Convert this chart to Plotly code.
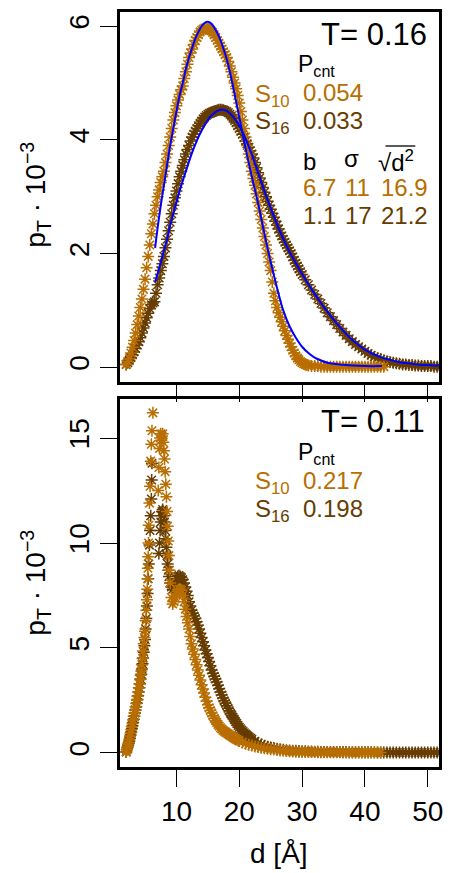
import plotly.graph_objects as go

W, H = 451, 873
ORANGE = "#B86E00"
DARK = "#663C00"
BLUE = "#0000FF"

# ---------------- top panel (T = 0.16) ----------------
top_s10_d = [2.0,2.25,2.5,2.75,3.0,3.25,3.5,3.75,4.0,4.25,4.5,4.75,5.0,5.25,5.5,5.75,6.0,6.25,6.5,6.75,
             7.0,7.25,7.5,7.75,8.0,8.25,8.5,8.75,9.0,9.25,9.5,9.75,10.0,10.25,10.5,10.75,11.0,11.25,11.5,11.75,
             12.0,12.25,12.5,12.75,13.0,13.25,13.5,13.75,14.0,14.25,14.5,14.75,15.0,15.25,15.5,15.75,16.0,16.25,16.5,16.75,
             17.0,17.25,17.5,17.75,18.0,18.25,18.5,18.75,19.0,19.25,19.5,19.75,20.0,20.25,20.5,20.75,21.0,21.25,21.5,21.75,
             22.0,22.25,22.5,22.75,23.0,23.25,23.5,23.75,24.0,24.25,24.5,24.75,25.0,25.25,25.5,25.75,26.0,26.25,26.5,26.75,
             27.0,27.25,27.5,27.75,28.0,28.25,28.5,28.75,29.0,29.25,29.5,29.75,30.0,30.25,30.5,30.75,31.0,
             31.5,32.0,32.5,33.0,33.5,34.0,34.5,35.0,35.5,36.0,36.5,37.0,37.5,38.0,38.5,39.0,39.5,40.0,40.5,41.0,41.5,42.0,42.5,43.0]
top_s10_p = [0.05,0.1,0.15,0.25,0.35,0.47,0.6,0.75,0.9,1.05,1.2,1.37,1.55,1.75,1.95,2.15,2.35,2.52,2.7,2.85,
             3.0,3.12,3.25,3.35,3.45,3.6,3.75,3.9,4.05,4.2,4.35,4.48,4.6,4.7,4.8,4.88,4.95,5.08,5.2,5.33,
             5.45,5.53,5.6,5.68,5.75,5.8,5.85,5.9,5.93,5.95,5.97,5.96,5.95,5.94,5.92,5.89,5.85,5.8,5.75,5.7,
             5.65,5.6,5.55,5.5,5.45,5.38,5.3,5.2,5.1,5.0,4.9,4.78,4.65,4.5,4.35,4.2,4.05,3.9,3.75,3.6,
             3.45,3.32,3.2,3.05,2.9,2.75,2.6,2.45,2.3,2.15,2.0,1.85,1.7,1.5,1.3,1.17,1.05,0.96,0.88,0.8,
             0.72,0.64,0.56,0.49,0.42,0.36,0.3,0.25,0.2,0.16,0.13,0.1,0.08,0.06,0.05,0.04,0.03,
             0.02,0.02,0.02,0.01,0.01,0.01,0.01,0.01,0.01,0.01,0.01,0.01,0.01,0.01,0.01,0.01,0.01,0.01,0.01,0.01,0.01,0.01,0.01,0.01]

top_s16_d = [2.0,2.25,2.5,2.75,3.0,3.25,3.5,3.75,4.0,4.25,4.5,4.75,5.0,5.25,5.5,5.75,6.0,6.25,6.5,6.75,
             7.0,7.25,7.5,7.75,8.0,8.25,8.5,8.75,9.0,9.25,9.5,9.75,10.0,10.25,10.5,10.75,11.0,11.25,11.5,11.75,
             12.0,12.25,12.5,12.75,13.0,13.25,13.5,13.75,14.0,14.25,14.5,14.75,15.0,15.25,15.5,15.75,16.0,16.25,16.5,16.75,
             17.0,17.25,17.5,17.75,18.0,18.25,18.5,18.75,19.0,19.25,19.5,19.75,20.0,20.25,20.5,20.75,21.0,21.25,21.5,21.75,
             22.0,22.25,22.5,22.75,23.0,23.25,23.5,23.75,24.0,24.25,24.5,24.75,25.0,25.25,25.5,25.75,26.0,26.25,26.5,26.75,
             27.0,27.25,27.5,27.75,28.0,28.25,28.5,28.75,29.0,29.25,29.5,29.75,30.0,
             30.5,31.0,31.5,32.0,32.5,33.0,33.5,34.0,34.5,35.0,35.5,36.0,36.5,37.0,37.5,38.0,38.5,39.0,39.5,40.0,
             40.5,41.0,41.5,42.0,42.5,43.0,43.5,44.0,44.5,45.0,45.5,46.0,46.5,47.0,47.5,48.0,48.5,49.0,49.5,50.0,50.5,51.0,51.5,52.0]
top_s16_p = [0.05,0.08,0.12,0.17,0.22,0.27,0.33,0.39,0.45,0.52,0.6,0.69,0.78,0.87,0.95,1.03,1.1,1.13,1.15,1.3,
             1.45,1.57,1.7,1.82,1.95,2.1,2.25,2.4,2.55,2.7,2.85,2.98,3.1,3.23,3.35,3.45,3.55,3.65,3.75,3.83,
             3.9,3.98,4.05,4.1,4.15,4.2,4.25,4.29,4.33,4.37,4.4,4.43,4.45,4.47,4.48,4.49,4.5,4.51,4.52,4.53,
             4.53,4.53,4.52,4.51,4.5,4.48,4.45,4.42,4.38,4.34,4.3,4.25,4.2,4.15,4.1,4.04,3.98,3.93,3.87,3.81,
             3.75,3.68,3.6,3.51,3.42,3.33,3.25,3.16,3.08,3.0,2.92,2.85,2.78,2.71,2.64,2.57,2.5,2.43,2.37,2.31,
             2.25,2.2,2.15,2.1,2.05,2.0,1.94,1.88,1.83,1.78,1.73,1.68,1.63,
             1.54,1.45,1.36,1.28,1.2,1.12,1.04,0.96,0.89,0.82,0.75,0.68,0.62,0.56,0.5,0.45,0.4,0.36,0.32,0.28,
             0.24,0.21,0.18,0.16,0.14,0.12,0.1,0.09,0.08,0.07,0.06,0.05,0.05,0.04,0.04,0.03,0.03,0.02,0.02,0.02,0.02,0.01,0.01,0.01]

fit_s10_d = [6.6,7.0,7.5,8.0,8.5,9.0,9.5,10.0,10.5,11.0,11.5,12.0,12.5,13.0,13.5,14.0,14.5,15.0,15.5,16.0,16.5,17.0,17.5,18.0,18.5,19.0,20.0,21.0,22.0,23.0,24.0,25.0,26.0,27.0,28.0,29.0,30.0,31.0,32.0,33.0,34.0,35.0,36.0,38.0,40.0,42.7]
fit_s10_p = [2.1,2.45,2.85,3.2,3.55,3.9,4.2,4.5,4.78,5.0,5.25,5.45,5.62,5.78,5.9,6.0,6.06,6.08,6.05,5.98,5.88,5.76,5.6,5.42,5.2,4.94,4.4,3.85,3.35,2.88,2.35,1.85,1.4,1.0,0.72,0.52,0.36,0.25,0.17,0.12,0.08,0.06,0.05,0.03,0.02,0.02]

fit_s16_d = [6.6,7.0,7.5,8.0,8.5,9.0,9.5,10.0,10.5,11.0,11.5,12.0,12.5,13.0,13.5,14.0,14.5,15.0,15.5,16.0,16.5,17.0,17.5,18.0,18.5,19.0,19.5,20.0,21.0,22.0,23.0,24.0,25.0,26.0,27.0,28.0,29.0,30.0,31.0,32.0,33.0,34.0,35.0,36.0,37.0,38.0,39.0,40.0,41.0,42.0,43.0,44.0,45.0,46.0,47.0,48.0,49.0,50.0,51.0,51.8]
fit_s16_p = [1.5,1.65,1.85,2.05,2.25,2.5,2.7,2.9,3.1,3.28,3.45,3.62,3.78,3.92,4.05,4.16,4.26,4.35,4.42,4.47,4.51,4.53,4.53,4.51,4.47,4.41,4.34,4.25,4.02,3.74,3.42,3.1,2.8,2.52,2.26,2.03,1.83,1.64,1.46,1.29,1.13,0.98,0.84,0.71,0.59,0.48,0.39,0.31,0.25,0.2,0.16,0.13,0.1,0.08,0.07,0.05,0.04,0.04,0.03,0.03]

# ---------------- bottom panel (T = 0.11) ----------------
bot_s10_d = [2.0,2.1,2.2,2.3,2.4,2.5,2.6,2.7,2.8,2.9,3.0,3.1,3.2,3.3,3.4,3.5,3.6,3.7,3.8,3.9,
             4.0,4.1,4.2,4.3,4.4,4.5,4.6,4.7,4.8,4.9,5.0,5.1,5.2,5.3,5.35,5.4,5.45,5.5,5.55,5.6,5.7,5.8,5.9,6.0,6.1,6.25,
             7.1,7.2,7.3,7.4,7.5,7.6,7.7,7.8,7.9,8.0,8.1,8.2,8.3,8.4,8.5,8.6,8.7,8.8,8.9,
             9.0,9.2,9.4,9.6,9.8,10.0,10.2,10.4,10.6,10.8,11.0,11.2,11.4,11.6,11.8,12.0,12.2,12.4,12.6,12.8,
             13.0,13.2,13.4,13.6,13.8,14.0,14.2,14.4,14.6,14.8,15.0,15.2,15.4,15.6,15.8,16.0,16.2,16.4,16.6,16.8,
             17.0,17.2,17.4,17.6,17.8,18.0,18.2,18.4,18.6,18.8,19.0,19.2,19.4,19.6,19.8,20.0,
             20.5,21.0,21.5,22.0,22.5,23.0,23.5,24.0,24.5,25.0,25.5,26.0,26.5,27.0,27.5,28.0,28.5,29.0,29.5,30.0,
             30.5,31.0,31.5,32.0,32.5,33.0,33.5,34.0,34.5,35.0,35.5,36.0,36.5,37.0,37.5,38.0,38.5,39.0,39.5,40.0,40.5,41.0,41.5,42.0,42.5]
bot_s10_p = [0.05,0.15,0.3,0.4,0.5,0.65,0.8,0.95,1.1,1.25,1.4,1.57,1.75,1.9,2.05,2.2,2.35,2.52,2.7,2.9,
             3.1,3.3,3.5,3.7,3.9,4.2,4.5,4.85,5.2,5.5,5.8,6.3,6.8,7.3,7.8,8.3,8.8,9.35,10.0,10.85,11.9,12.7,13.9,14.7,15.35,16.2,
             12.5,13.6,14.5,15.0,15.2,14.9,15.1,15.2,14.8,14.4,14.0,13.4,12.8,12.2,11.5,10.8,10.1,9.4,8.7,
             8.1,7.4,7.1,7.2,7.4,7.6,7.7,7.8,7.8,7.75,7.5,7.2,6.85,6.5,6.2,5.9,5.55,5.2,4.95,4.7,
             4.45,4.2,3.95,3.7,3.47,3.25,3.05,2.85,2.65,2.47,2.3,2.15,2.02,1.9,1.77,1.65,1.55,1.45,1.36,1.28,
             1.2,1.14,1.08,1.03,0.99,0.95,0.91,0.87,0.83,0.79,0.75,0.71,0.68,0.64,0.6,0.57,
             0.5,0.44,0.39,0.35,0.31,0.28,0.25,0.22,0.2,0.18,0.16,0.14,0.12,0.1,0.09,0.08,0.07,0.06,0.05,0.05,
             0.04,0.04,0.04,0.04,0.03,0.03,0.03,0.03,0.03,0.03,0.03,0.03,0.02,0.02,0.02,0.02,0.02,0.02,0.02,0.02,0.02,0.02,0.02,0.02,0.02]

bot_s16_d = [2.0,2.1,2.2,2.3,2.4,2.5,2.6,2.7,2.8,2.9,3.0,3.1,3.2,3.3,3.4,3.5,3.6,3.7,3.8,3.9,
             4.0,4.1,4.2,4.3,4.4,4.5,4.6,4.7,4.8,4.9,5.0,5.1,5.2,5.3,5.4,5.5,5.6,5.7,5.8,5.9,6.0,6.05,6.1,
             7.2,7.3,7.4,7.5,7.6,7.7,7.8,7.9,8.0,8.1,8.2,8.3,8.4,8.5,8.6,8.7,8.8,
             9.0,9.2,9.4,9.6,9.8,10.0,10.2,10.4,10.6,10.8,11.0,11.2,11.4,11.6,11.8,12.0,12.2,12.4,12.6,12.8,
             13.0,13.2,13.4,13.6,13.8,14.0,14.2,14.4,14.6,14.8,15.0,15.2,15.4,15.6,15.8,16.0,16.2,16.4,16.6,16.8,
             17.0,17.2,17.4,17.6,17.8,18.0,18.2,18.4,18.6,18.8,19.0,19.2,19.4,19.6,19.8,20.0,20.2,20.4,20.6,20.8,
             21.0,21.2,21.4,21.6,21.8,22.0,
             22.5,23.0,23.5,24.0,24.5,25.0,25.5,26.0,26.5,27.0,27.5,28.0,28.5,29.0,29.5,30.0,30.5,31.0,31.5,32.0,
             32.5,33.0,33.5,34.0,34.5,35.0,35.5,36.0,36.5,37.0,37.5,38.0,38.5,39.0,39.5,40.0,40.5,41.0,41.5,42.0,
             42.5,43.0,43.5,44.0,44.5,45.0,45.5,46.0,46.5,47.0,47.5,48.0,48.5,49.0,49.5,50.0,50.5,51.0,51.5,52.0]
bot_s16_p = [0.05,0.15,0.25,0.35,0.45,0.57,0.7,0.85,1.0,1.15,1.3,1.45,1.6,1.75,1.9,2.05,2.2,2.37,2.55,2.72,
             2.9,3.1,3.3,3.52,3.75,4.0,4.25,4.52,4.8,5.1,5.4,5.9,6.4,7.0,7.6,8.3,9.0,9.9,10.6,11.3,12.1,13.0,13.8,
             9.5,10.0,10.6,11.0,11.3,11.5,11.6,11.5,11.3,11.0,10.6,10.2,9.8,9.4,9.0,8.7,8.4,
             8.1,7.9,7.8,7.9,8.1,8.3,8.4,8.45,8.4,8.35,8.25,8.1,7.9,7.7,7.5,7.2,7.0,6.8,6.65,6.52,
             6.4,6.25,6.08,5.9,5.7,5.5,5.3,5.1,4.9,4.72,4.55,4.35,4.15,3.95,3.8,3.65,3.52,3.38,3.22,3.06,
             2.9,2.76,2.62,2.48,2.37,2.25,2.13,2.01,1.89,1.8,1.7,1.6,1.5,1.4,1.31,1.22,1.15,1.08,1.02,0.96,
             0.9,0.85,0.8,0.75,0.7,0.65,
             0.55,0.47,0.4,0.34,0.3,0.26,0.23,0.2,0.17,0.15,0.13,0.12,0.11,0.1,0.09,0.08,0.08,0.07,0.07,0.06,
             0.06,0.05,0.05,0.05,0.05,0.04,0.04,0.04,0.04,0.04,0.03,0.03,0.03,0.03,0.03,0.03,0.03,0.03,0.03,0.02,
             0.02,0.02,0.02,0.02,0.02,0.02,0.02,0.02,0.02,0.02,0.02,0.02,0.02,0.02,0.02,0.02,0.02,0.02,0.02,0.02]

x_ticks = [10, 20, 30, 40, 50]
top_y_ticks = [0, 2, 4, 6]
bot_y_ticks = [0, 5, 10, 15]

FONT = "Liberation Sans, Arial, sans-serif"


def fx(px):
    return px / W


def fy(py):
    return 1 - py / H


def stars(x, y, color, xa, ya):
    return go.Scatter(x=x, y=y, mode="markers", xaxis=xa, yaxis=ya, showlegend=False,
                      marker=dict(symbol="asterisk-open", size=10, color=color,
                                  line=dict(color=color, width=1.5)))


def fitline(x, y, xa, ya):
    return go.Scatter(x=x, y=y, mode="lines", xaxis=xa, yaxis=ya, showlegend=False,
                      line=dict(color=BLUE, width=2, shape="spline"))


fig = go.Figure()
fig.add_trace(stars(top_s16_d, top_s16_p, DARK, "x", "y"))
fig.add_trace(stars(top_s10_d, top_s10_p, ORANGE, "x", "y"))
fig.add_trace(fitline(fit_s10_d, fit_s10_p, "x", "y"))
fig.add_trace(fitline(fit_s16_d, fit_s16_p, "x", "y"))
fig.add_trace(stars(bot_s16_d, bot_s16_p, DARK, "x2", "y2"))
fig.add_trace(stars(bot_s10_d, bot_s10_p, ORANGE, "x2", "y2"))

axis_common = dict(showline=True, mirror=True, linewidth=3, linecolor="black",
                   ticks="outside", ticklen=17, tickwidth=1.3, tickcolor="black",
                   showgrid=False, zeroline=False,
                   tickfont=dict(family=FONT, size=28, color="black"))

xdom = [fx(121), fx(443)]
fig.update_layout(
    width=W, height=H, autosize=False,
    margin=dict(l=0, r=0, t=0, b=0),
    paper_bgcolor="white", plot_bgcolor="white",
    xaxis=dict(domain=xdom, range=[1.0, 51.8], tickvals=x_ticks, showticklabels=False,
               anchor="y", **axis_common),
    yaxis=dict(domain=[fy(382), fy(12)], range=[-0.26, 6.25], tickvals=top_y_ticks,
               tickangle=-90, anchor="x", **axis_common),
    xaxis2=dict(domain=xdom, range=[1.0, 51.8], tickvals=x_ticks, anchor="y2", **axis_common),
    yaxis2=dict(domain=[fy(767), fy(399)], range=[-0.67, 16.86], tickvals=bot_y_ticks,
                tickangle=-90, anchor="x2", **axis_common),
)


def ann(text, px, py, size, color="black", xanchor="left", angle=0):
    fig.add_annotation(text=text, x=fx(px), y=fy(py), xref="paper", yref="paper",
                       showarrow=False, xanchor=xanchor, yanchor="middle", textangle=angle,
                       font=dict(family=FONT, size=size, color=color))


ytitle = "p<sub>T</sub> · 10<sup>−3</sup>"
ann(ytitle, 36, 195, 28, xanchor="center", angle=-90)
ann(ytitle, 36, 583, 28, xanchor="center", angle=-90)
ann("d [Å]", 282, 853, 28, xanchor="center")

# top panel texts
ann("T= 0.16", 433, 35, 31, xanchor="right")
ann("P<sub>cnt</sub>", 299, 66, 23)
ann("S<sub>10</sub>", 255, 95, 24, ORANGE)
ann("0.054", 304, 93, 24, ORANGE)
ann("S<sub>16</sub>", 255, 123, 24, DARK)
ann("0.033", 304, 121, 24, DARK)
ann("b", 304, 161, 24)
ann("σ", 345, 158, 24)
ann("√d<sup>2</sup>", 379, 161, 24)
fig.add_shape(type="line", xref="paper", yref="paper", x0=fx(389), x1=fx(419), y0=fy(146), y1=fy(146),
              line=dict(color="black", width=1.3))
ann("6.7", 304, 187, 24, ORANGE)
ann("11", 346, 187, 24, ORANGE)
ann("16.9", 382, 187, 24, ORANGE)
ann("1.1", 304, 215, 24, DARK)
ann("17", 346, 215, 24, DARK)
ann("21.2", 382, 215, 24, DARK)

# bottom panel texts
ann("T= 0.11", 431, 421, 31, xanchor="right")
ann("P<sub>cnt</sub>", 299, 453, 23)
ann("S<sub>10</sub>", 255, 482, 24, ORANGE)
ann("0.217", 304, 480, 24, ORANGE)
ann("S<sub>16</sub>", 255, 510, 24, DARK)
ann("0.198", 304, 508, 24, DARK)

fig.write_html("out.html")
